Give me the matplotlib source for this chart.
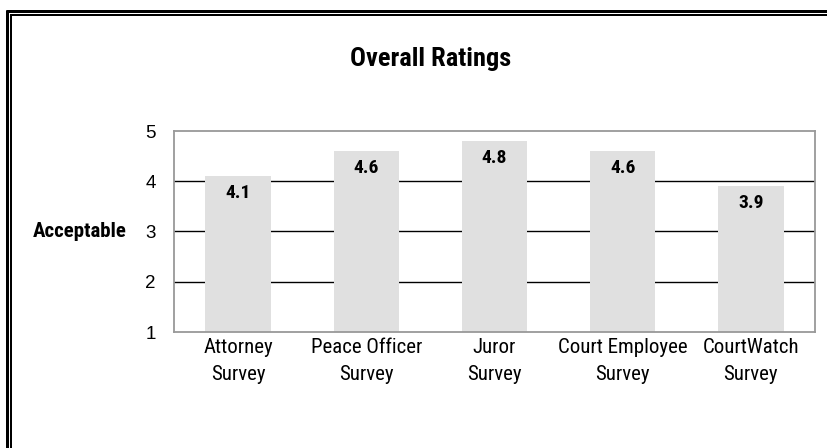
import matplotlib
matplotlib.use("Agg")
import matplotlib.pyplot as plt
from matplotlib.lines import Line2D
import matplotlib.transforms as mtransforms
from matplotlib import font_manager as fm

categories = ["Attorney\nSurvey", "Peace Officer\nSurvey", "Juror\nSurvey",
              "Court Employee\nSurvey", "CourtWatch\nSurvey"]
values = [4.1, 4.6, 4.8, 4.6, 3.9]
value_labels = ["4.1", "4.6", "4.8", "4.6", "3.9"]
yticks = [1, 2, 3, 4, 5]
title = "Overall Ratings"
ylabel = "Acceptable"

# pick a narrow sans font if one is installed
names = {f.name for f in fm.fontManager.ttflist}
stretches = {(f.name, str(f.stretch)) for f in fm.fontManager.ttflist}
NARROW_FAM, NARROW_STRETCH, SCALE = "Liberation Sans", "normal", 0.82
if "Liberation Sans Narrow" in names:
    NARROW_FAM, SCALE = "Liberation Sans Narrow", 1.0
elif "Roboto Condensed" in names:
    NARROW_FAM, SCALE = "Roboto Condensed", 1.0
elif any(n == "DejaVu Sans" and s in ("condensed", "semi-condensed", "75", "87")
         for n, s in stretches):
    NARROW_FAM, NARROW_STRETCH, SCALE = "DejaVu Sans", "condensed", 0.92
elif any(n == "Open Sans" and s in ("condensed", "semi-condensed", "75", "87")
         for n, s in stretches):
    NARROW_FAM, NARROW_STRETCH, SCALE = "Open Sans", "condensed", 0.95

NARROW = [NARROW_FAM, "DejaVu Sans"]
REG = ["Liberation Sans", "DejaVu Sans"]

W, H = 828, 448
fig = plt.figure(figsize=(W / 100, H / 100), dpi=100)
fig.patch.set_facecolor("white")

ax = fig.add_axes([174 / W, 1 - 332 / H, (815 - 174) / W, (332 - 131) / H])
x = list(range(len(categories)))
ax.bar(x, values, width=0.51, bottom=0, color="#e0e0e0", zorder=2)
ax.set_ylim(1, 5)
ax.set_xlim(-0.5, len(categories) - 0.5)
ax.set_yticks(yticks)
ax.set_yticklabels([str(t) for t in yticks], family=REG, fontsize=13.5)
ax.set_xticks(x)
ax.set_xticklabels(categories, family=NARROW, fontstretch=NARROW_STRETCH,
                   fontsize=15 * SCALE, linespacing=1.55)
ax.tick_params(axis="both", length=0)
ax.tick_params(axis="y", pad=13)
ax.tick_params(axis="x", pad=4)
for t in yticks[1:-1]:
    ax.axhline(t, color="black", lw=1.0, zorder=1)
for s in ax.spines.values():
    s.set_color("#999999")
    s.set_linewidth(1.3)
    s.set_zorder(3)

for xi, v, lab in zip(x, values, value_labels):
    ax.annotate(lab, (xi, v), xytext=(0, -17), textcoords="offset pixels",
                ha="center", va="center", fontsize=14, fontweight="bold",
                family=NARROW, fontstretch=NARROW_STRETCH, zorder=4)

trans = mtransforms.blended_transform_factory(fig.transFigure, ax.transData)
ax.text(127 / W, 3, ylabel, transform=trans, ha="right", va="center",
        fontsize=15 * SCALE, fontweight="bold", family=NARROW,
        fontstretch=NARROW_STRETCH)

fig.text(431 / W, 1 - 59 / H, title, ha="center", va="center",
         fontsize=19 * SCALE, fontweight="bold", family=NARROW,
         fontstretch=NARROW_STRETCH)

# double frame lines (top and left)
K = 0.72
fig.add_artist(Line2D([6 / W, 1], [1 - 11.5 / H] * 2, transform=fig.transFigure,
                      color="black", lw=3 * K, solid_capstyle="butt"))
fig.add_artist(Line2D([7.5 / W] * 2, [1 - 10 / H, 0], transform=fig.transFigure,
                      color="black", lw=3 * K, solid_capstyle="butt"))
fig.add_artist(Line2D([10 / W, 1], [1 - 15 / H] * 2, transform=fig.transFigure,
                      color="black", lw=2 * K, solid_capstyle="butt"))
fig.add_artist(Line2D([11 / W] * 2, [1 - 14 / H, 0], transform=fig.transFigure,
                      color="black", lw=2 * K, solid_capstyle="butt"))

fig.savefig("out.png", dpi=100)
